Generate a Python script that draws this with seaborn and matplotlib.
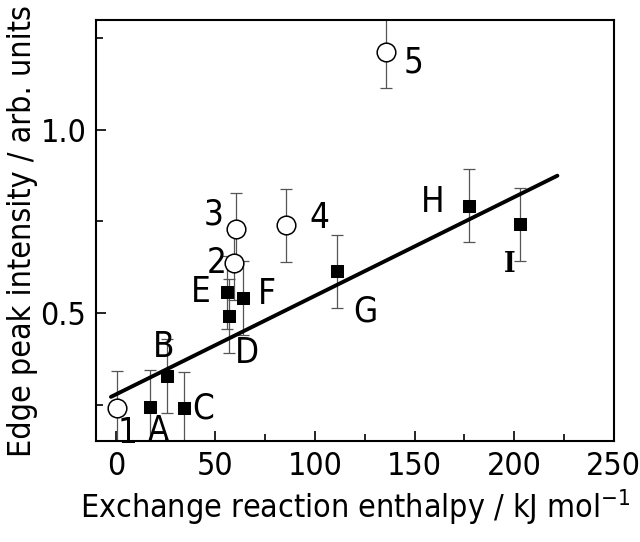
import numpy as np
import pandas as pd
import seaborn as sns
import matplotlib.pyplot as plt
from matplotlib.ticker import MultipleLocator

# open circles: numbered compounds
circ_labels = ['1', '2', '3', '4', '5']
circ_x = [0.5, 59.5, 60.3, 85.2, 135.5]
circ_y = [0.241, 0.636, 0.729, 0.739, 1.214]
circ_err = [0.1, 0.1, 0.1, 0.1, 0.1]

# filled squares: lettered compounds
sq_labels = ['A', 'B', 'C', 'D', 'E', 'F', 'G', 'H', 'I']
sq_x = [17.2, 25.8, 34.0, 57.0, 55.7, 64.0, 111.2, 177.2, 202.7]
sq_y = [0.244, 0.328, 0.240, 0.492, 0.557, 0.541, 0.614, 0.793, 0.742]
sq_err = [0.1, 0.1, 0.1, 0.1, 0.1, 0.1, 0.1, 0.1, 0.1]

# linear fit line end points
fit_x = [-2.5, 221.7]
fit_y = [0.271, 0.875]

sns.set_theme(style="ticks")
plt.rcParams['font.family'] = ['DejaVu Sans']
plt.rcParams['font.stretch'] = 'condensed'
for k in ['text.color', 'axes.labelcolor', 'xtick.color', 'ytick.color', 'axes.edgecolor']:
    plt.rcParams[k] = 'black'

fig, ax = plt.subplots(figsize=(6.4, 5.42), dpi=100)
fig.subplots_adjust(left=0.15, right=0.959, top=0.963, bottom=0.186)

circ = pd.DataFrame({'x': circ_x, 'y': circ_y, 'lab': circ_labels})
sq = pd.DataFrame({'x': sq_x, 'y': sq_y, 'lab': sq_labels})

ax.errorbar(circ_x, circ_y, yerr=circ_err, fmt='none', ecolor='#555555',
            elinewidth=0.9, capsize=4, capthick=0.9, zorder=1)
ax.errorbar(sq_x, sq_y, yerr=sq_err, fmt='none', ecolor='#555555',
            elinewidth=0.9, capsize=4, capthick=0.9, zorder=1)

sns.lineplot(x=fit_x, y=fit_y, color='black', linewidth=2.8, ax=ax, zorder=2)

sns.scatterplot(data=circ, x='x', y='y', marker='o', s=180, facecolor='white',
                edgecolor='black', linewidth=1.1, ax=ax, zorder=3)
sns.scatterplot(data=sq, x='x', y='y', marker='s', s=85, color='black',
                edgecolor='black', ax=ax, zorder=3)

# label offsets in data units
lab_off = {'1': (5.5, -0.07), '2': (-9, 0.0), '3': (-11, 0.04), '4': (17, 0.02),
           '5': (14, -0.03), 'A': (4, -0.065), 'B': (-2, 0.08), 'C': (10, 0.0),
           'D': (9, -0.10), 'E': (-13, 0.0), 'F': (12, 0.01), 'G': (14, -0.11),
           'H': (-18, 0.01)}
for d in (circ, sq):
    for _, r in d.iterrows():
        if r['lab'] == 'I':
            ax.text(r['x'] - 5, r['y'] - 0.11, 'I', family='DejaVu Serif',
                    fontweight='bold', fontsize=20, ha='center', va='center')
            continue
        dx, dy = lab_off[r['lab']]
        ax.text(r['x'] + dx, r['y'] + dy, r['lab'], fontsize=25,
                ha='center', va='center')

ax.set_xlim(-10, 250)
ax.set_ylim(0.15, 1.30)
ax.xaxis.set_major_locator(MultipleLocator(50))
ax.xaxis.set_minor_locator(MultipleLocator(25))
ax.yaxis.set_major_locator(MultipleLocator(0.5))
ax.yaxis.set_minor_locator(MultipleLocator(0.25))
ax.tick_params(which='both', direction='in', width=1.2, top=False, right=False)
ax.tick_params(which='major', length=7, labelsize=23, pad=7)
ax.tick_params(which='minor', length=5)
for s in ax.spines.values():
    s.set_linewidth(1.5)
    s.set_visible(True)

ax.set_xlabel('Exchange reaction enthalpy / kJ mol$^{-1}$', fontsize=23, labelpad=4)
ax.set_ylabel('Edge peak intensity / arb. units', fontsize=23, labelpad=2)

plt.savefig('out.png', dpi=100)
